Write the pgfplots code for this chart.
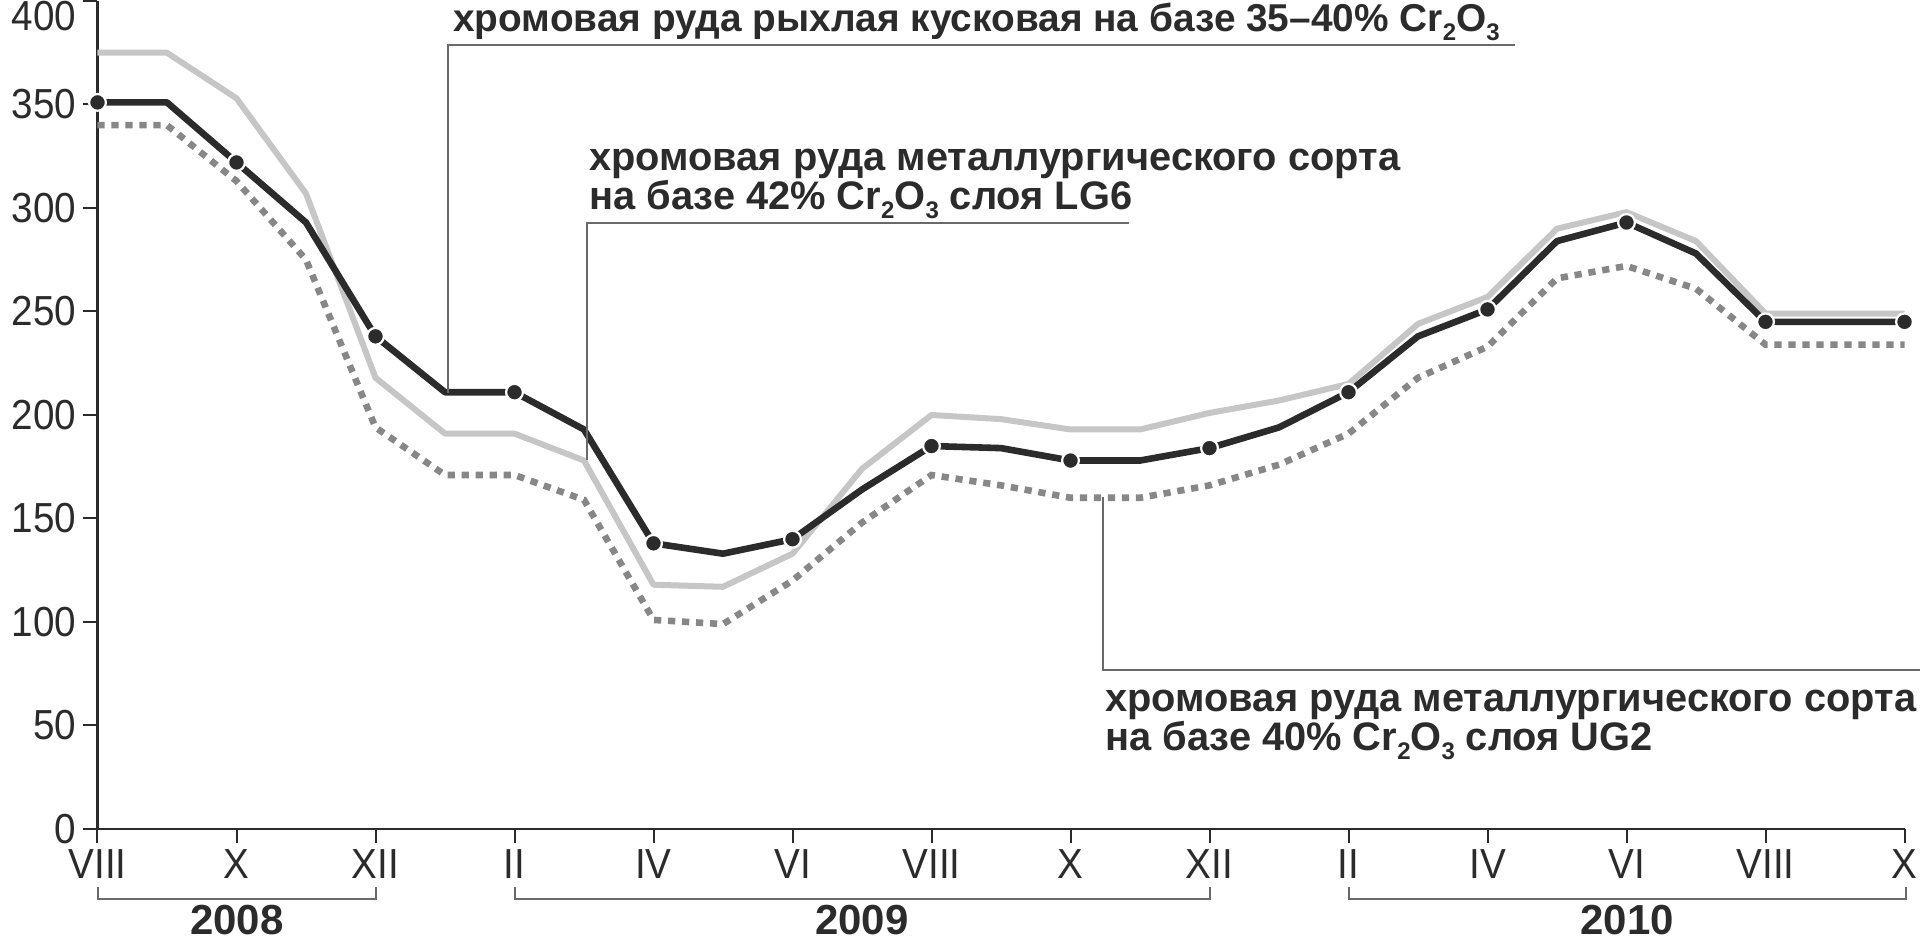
\documentclass[border=0pt]{standalone}
\usepackage{fontspec}
\setmainfont{Liberation Sans}
\newfontfamily\annfont{Liberation Sans}
\newfontfamily\tickfont{Liberation Sans}[FakeStretch=0.92]
\usepackage{pgfplots}
\usepackage{pgfplotstable}
\pgfplotsset{compat=1.18}
\definecolor{ink}{HTML}{2B2B2B}
\definecolor{lgray}{HTML}{C6C6C6}
\definecolor{dgray}{HTML}{878787}
\definecolor{lead}{HTML}{6A6A6A}

\pgfplotstableread{
m  black gray dotted
0  351 375 340
1  351 375 340
2  322 353 313
3  293 307 275
4  238 218 194
5  211 191 171
6  211 191 171
7  193 178 159
8  138 118 101
9  133 117  99
10 140 133 120
11 164 174 148
12 185 200 171
13 184 198 166
14 178 193 160
15 178 193 160
16 184 201 166
17 194 207 176
18 211 215 191
19 238 244 218
20 251 257 233
21 284 290 266
22 293 298 272
23 278 284 261
24 245 249 234
25 245 249 234
26 245 249 234
}\datatable

\newcommand{\annf}{\annfont\bfseries\fontsize{19.9}{20}\selectfont}
\newcommand{\annfa}{\annfont\bfseries\fontsize{19.4}{20}\selectfont}
\newcommand{\sub}[1]{\raisebox{-0.22em}{\fontsize{12}{12}\selectfont #1}}

\begin{document}
\begin{tikzpicture}
\begin{axis}[
  scale only axis, width=903.5pt, height=414pt,
  xmin=0, xmax=26, ymin=0, ymax=400,
  axis x line*=bottom, axis y line*=left,
  axis line style={ink, line width=1.3pt, -},
  xtick={0,2,...,26},
  xticklabels={VIII,X,XII,II,IV,VI,VIII,X,XII,II,IV,VI,VIII,X},
  ytick={0,50,...,400},
  yticklabels={0,50,100,150,200,250,300,350,\raisebox{-15pt}[0pt][0pt]{400}},
  tick align=outside, major tick length=7pt,
  tick style={ink, line width=1pt},
  ticklabel style={font=\tickfont\fontsize{21}{21}\selectfont, text=ink},
  clip=false,
]
\addplot[lgray, line width=3pt, line join=round] table[x=m, y=gray]{\datatable};
\addplot[dgray, line width=3.3pt, dash pattern=on 3.6pt off 3.4pt] table[x=m, y=dotted]{\datatable};
\addplot[ink, line width=3.3pt, line join=round, mark=*, mark repeat=2, mark size=4.2pt,
  mark options={solid, fill=ink, draw=white, line width=1.1pt}] table[x=m, y=black]{\datatable};
\coordinate (O) at (axis cs:0,0);
\end{axis}
\begin{scope}[shift={(O)}, xshift=-48.75pt, yshift=414.5pt, x=0.5pt, y=-0.5pt]
  % annotation 1
  \draw[lead, line width=1pt] (448,393) -- (448,45) -- (1515,45);
  \node[anchor=base west, inner sep=0, font=\annfa, text=ink] at (453,32)
    {хромовая руда рыхлая кусковая на базе 35–40\% Cr\sub{2}O\sub{3}};
  % annotation 2
  \draw[lead, line width=1pt] (587,460) -- (587,223) -- (1129,223);
  \node[anchor=base west, inner sep=0, font=\annf, text=ink] at (589,171)
    {хромовая руда металлургического сорта};
  \node[anchor=base west, inner sep=0, font=\annf, text=ink] at (589,210)
    {на базе 42\% Cr\sub{2}O\sub{3} слоя LG6};
  % annotation 3
  \draw[lead, line width=1pt] (1103,497) -- (1103,670) -- (1920,670);
  \node[anchor=base west, inner sep=0, font=\annf, text=ink] at (1105,712)
    {хромовая руда металлургического сорта};
  \node[anchor=base west, inner sep=0, font=\annf, text=ink] at (1105,751)
    {на базе 40\% Cr\sub{2}O\sub{3} слоя UG2};
  % year brackets
  \draw[lead, line width=1pt] (97.5,887) -- (97.5,899) -- (376,899) -- (376,887);
  \draw[lead, line width=1pt] (515,887) -- (515,899) -- (1210,899) -- (1210,887);
  \draw[lead, line width=1pt] (1349,887) -- (1349,899) -- (1906,899) -- (1906,887);
  \node[anchor=base, inner sep=0, font=\annfont\bfseries\fontsize{21}{21}\selectfont, text=ink] at (237,935) {2008};
  \node[anchor=base, inner sep=0, font=\annfont\bfseries\fontsize{21}{21}\selectfont, text=ink] at (862,935) {2009};
  \node[anchor=base, inner sep=0, font=\annfont\bfseries\fontsize{21}{21}\selectfont, text=ink] at (1627,935) {2010};
  \pgfresetboundingbox
  \path[use as bounding box] (0,0) rectangle (1920,940);
\end{scope}
\end{tikzpicture}
\end{document}
